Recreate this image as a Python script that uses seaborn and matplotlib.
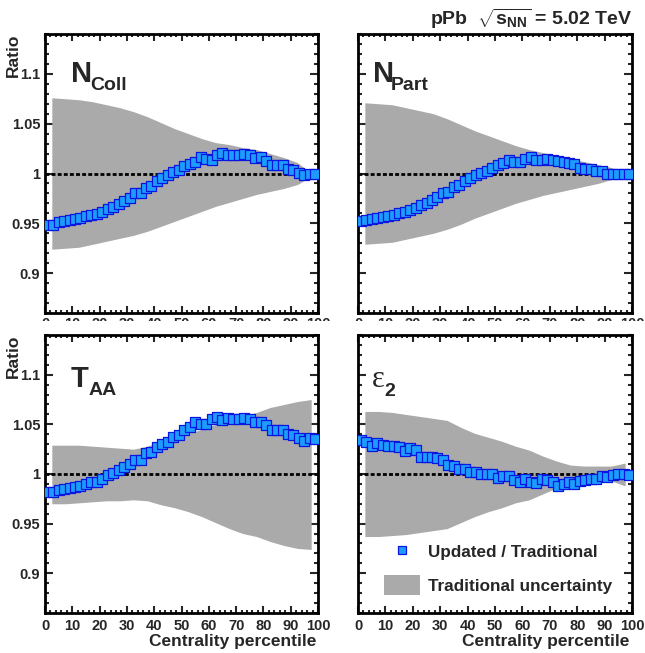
import numpy as np
import seaborn as sns
import matplotlib.pyplot as plt
from matplotlib.ticker import MultipleLocator, FuncFormatter
from matplotlib.patches import Rectangle, Patch
from matplotlib.lines import Line2D

# centrality bin centres (2% bins for the ratio, 5% bins for the band)
centrality = np.arange(1, 100, 2)
band_x = np.arange(2.5, 100, 5)

ncoll_ratio = [0.948, 0.948, 0.951, 0.952, 0.953, 0.954, 0.955, 0.957, 0.958, 0.959,
               0.961, 0.964, 0.966, 0.969, 0.972, 0.975, 0.980, 0.980, 0.985, 0.987,
               0.992, 0.995, 0.998, 1.002, 1.004, 1.008, 1.010, 1.012, 1.017, 1.015,
               1.014, 1.019, 1.021, 1.019, 1.019, 1.019, 1.020, 1.019, 1.016, 1.017,
               1.013, 1.009, 1.009, 1.009, 1.005, 1.004, 1.001, 0.998, 1.000, 1.000]
npart_ratio = [0.952, 0.953, 0.954, 0.955, 0.956, 0.957, 0.958, 0.960, 0.961, 0.963,
               0.965, 0.968, 0.970, 0.973, 0.976, 0.980, 0.981, 0.986, 0.988, 0.992,
               0.995, 0.998, 1.001, 1.003, 1.006, 1.009, 1.011, 1.014, 1.012, 1.012,
               1.015, 1.017, 1.014, 1.014, 1.015, 1.014, 1.013, 1.012, 1.011, 1.010,
               1.006, 1.005, 1.005, 1.003, 1.003, 1.000, 0.999, 1.000, 1.000, 1.000]
taa_ratio = [0.982, 0.982, 0.984, 0.985, 0.986, 0.987, 0.988, 0.990, 0.992, 0.992,
             0.995, 0.999, 1.001, 1.004, 1.007, 1.010, 1.014, 1.014, 1.021, 1.022,
             1.027, 1.030, 1.032, 1.037, 1.039, 1.044, 1.047, 1.052, 1.050, 1.050,
             1.055, 1.057, 1.054, 1.056, 1.055, 1.055, 1.056, 1.055, 1.052, 1.052,
             1.049, 1.044, 1.044, 1.044, 1.040, 1.039, 1.036, 1.033, 1.036, 1.035]
ecc2_ratio = [1.034, 1.032, 1.028, 1.031, 1.029, 1.028, 1.028, 1.027, 1.023, 1.026,
              1.024, 1.017, 1.017, 1.017, 1.016, 1.014, 1.009, 1.008, 1.005, 1.005,
              1.002, 1.002, 1.000, 1.000, 1.000, 0.996, 0.998, 0.998, 0.994, 0.992,
              0.995, 0.992, 0.991, 0.995, 0.994, 0.992, 0.988, 0.990, 0.992, 0.990,
              0.993, 0.994, 0.995, 0.995, 0.998, 0.997, 0.999, 1.000, 1.000, 0.999]

# traditional uncertainty band (upper / lower edge)
ncoll_hi = [1.076, 1.075, 1.074, 1.072, 1.069, 1.066, 1.062, 1.057, 1.051, 1.045,
            1.040, 1.035, 1.031, 1.029, 1.026, 1.024, 1.020, 1.016, 1.011, 1.000]
ncoll_lo = [0.924, 0.925, 0.926, 0.929, 0.932, 0.935, 0.938, 0.942, 0.947, 0.952,
            0.957, 0.962, 0.967, 0.971, 0.975, 0.979, 0.982, 0.985, 0.989, 0.997]
npart_hi = [1.071, 1.070, 1.069, 1.066, 1.063, 1.060, 1.055, 1.049, 1.043, 1.038,
            1.033, 1.028, 1.024, 1.021, 1.018, 1.015, 1.012, 1.009, 1.006, 1.001]
npart_lo = [0.929, 0.930, 0.931, 0.934, 0.937, 0.940, 0.944, 0.949, 0.955, 0.960,
            0.965, 0.970, 0.974, 0.978, 0.981, 0.984, 0.987, 0.990, 0.994, 0.999]
taa_hi = [1.029, 1.029, 1.029, 1.028, 1.027, 1.026, 1.025, 1.028, 1.033, 1.037,
          1.041, 1.045, 1.050, 1.055, 1.059, 1.062, 1.067, 1.070, 1.073, 1.075]
taa_lo = [0.970, 0.970, 0.971, 0.972, 0.973, 0.973, 0.974, 0.973, 0.969, 0.966,
          0.962, 0.957, 0.951, 0.945, 0.940, 0.937, 0.932, 0.928, 0.925, 0.924]
ecc2_hi = [1.063, 1.063, 1.062, 1.060, 1.058, 1.056, 1.054, 1.047, 1.041, 1.037,
           1.033, 1.028, 1.024, 1.018, 1.013, 1.009, 1.008, 1.008, 1.008, 1.011]
ecc2_lo = [0.937, 0.937, 0.938, 0.939, 0.941, 0.943, 0.945, 0.951, 0.957, 0.962,
           0.966, 0.971, 0.974, 0.980, 0.986, 0.990, 0.992, 0.993, 0.993, 0.988]

fill_col = '#1c9cff'
edge_col = '#0a16e0'
band_col = '#aaaaaa'

sns.set_style('ticks')
plt.rcParams['font.family'] = ['Liberation Sans', 'DejaVu Sans']
plt.rcParams['font.weight'] = 'bold'
plt.rcParams['mathtext.fontset'] = 'custom'
plt.rcParams['mathtext.rm'] = 'Liberation Sans:bold'
plt.rcParams['mathtext.it'] = 'Liberation Sans:bold'
plt.rcParams['mathtext.bf'] = 'Liberation Sans:bold'

fig = plt.figure(figsize=(6.45, 6.53), dpi=100)
ax_tl = fig.add_axes([0.06977, 0.52067, 0.42326, 0.42726])
ax_tr = fig.add_axes([0.55504, 0.52067, 0.42481, 0.42726])
ax_bl = fig.add_axes([0.06977, 0.06126, 0.42326, 0.42573])
ax_br = fig.add_axes([0.55504, 0.06126, 0.42481, 0.42573])
ax_bl.set_zorder(2)
ax_br.set_zorder(2)

# white strip that hides the lower half of the top panels' x labels
fig.add_artist(Rectangle((0, 0), 1, 0.5084, transform=fig.transFigure,
                         facecolor='white', edgecolor='none', zorder=1))

panels = [
    (ax_tl, ncoll_ratio, ncoll_hi, ncoll_lo, 'N', 'Coll', (0.095, 0.829), (0.165, 0.799), True, True),
    (ax_tr, npart_ratio, npart_hi, npart_lo, 'N', 'Part', (0.056, 0.829), (0.121, 0.799), False, True),
    (ax_bl, taa_ratio, taa_hi, taa_lo, 'T', 'AA', (0.095, 0.814), (0.160, 0.784), True, False),
    (ax_br, ecc2_ratio, ecc2_hi, ecc2_lo, 'ε', '2', (0.052, 0.814), (0.097, 0.781), False, False),
]

for ax, ratio, hi, lo, main, sub, pos_main, pos_sub, left_col, top_row in panels:
    ax.fill_between(band_x, lo, hi, color=band_col, linewidth=0, zorder=1)
    ax.axhline(1.0, color='black', lw=2, ls=(0, (1.4, 0.8)), zorder=2)
    sns.scatterplot(x=centrality, y=ratio, ax=ax, marker='s', s=42,
                    color=fill_col, edgecolor=edge_col, linewidth=0.9, zorder=3)

    ax.set_xlim(0, 100)
    ax.set_ylim(0.86, 1.14)
    ax.xaxis.set_major_locator(MultipleLocator(10))
    ax.xaxis.set_minor_locator(MultipleLocator(2))
    ax.yaxis.set_major_locator(MultipleLocator(0.05))
    ax.yaxis.set_minor_locator(MultipleLocator(0.01))
    ax.yaxis.set_major_formatter(FuncFormatter(lambda v, p: f'{v:g}'))

    ax.tick_params(which='both', direction='in', top=True, right=True, width=1.5,
                   labelsize=10.5)
    ax.tick_params(axis='x', which='major', length=5, pad=3 if top_row else 4.5)
    ax.tick_params(axis='x', which='minor', length=2.5)
    ax.tick_params(axis='y', which='major', length=6, pad=3.5)
    ax.tick_params(axis='y', which='minor', length=3)
    if not left_col:
        ax.tick_params(axis='y', labelleft=False)
    for lab in ax.get_xticklabels() + ax.get_yticklabels():
        lab.set_fontweight('bold')
    for sp in ax.spines.values():
        sp.set_linewidth(2)
        sp.set_color('black')

    if main == 'ε':
        ax.text(*pos_main, main, transform=ax.transAxes, fontsize=22, fontweight='normal',
                family='Liberation Serif', va='baseline', ha='left')
    else:
        ax.text(*pos_main, main, transform=ax.transAxes, fontsize=21, fontweight='bold',
                va='baseline', ha='left')
    ax.text(*pos_sub, sub, transform=ax.transAxes, fontsize=14, fontweight='bold',
            va='baseline', ha='left')

    if left_col:
        ax.set_ylabel('Ratio', loc='top', fontsize=12.5, fontweight='bold')
        ax.yaxis.set_label_coords(-0.09, 1.0)
    else:
        ax.set_ylabel('')
    if not top_row:
        ax.set_xlabel('Centrality percentile', loc='right', fontsize=12.5, fontweight='bold')
        ax.xaxis.set_label_coords(0.99 if not left_col else 0.995, -0.074)
    else:
        ax.set_xlabel('')

handles = [Line2D([], [], ls='none', marker='s', ms=5.5, mfc=fill_col, mec=edge_col, mew=0.9),
           Patch(facecolor=band_col, edgecolor='none')]
ax_br.legend(handles, ['Updated / Traditional', 'Traditional uncertainty'],
             loc='upper left', bbox_to_anchor=(0.095, 0.255), frameon=False,
             borderpad=0, borderaxespad=0, handlelength=2.1, handleheight=1.37,
             handletextpad=0.47, labelspacing=0.8, prop={'weight': 'bold', 'size': 12.3})

fig.text(0.98, 0.9617, r'pPb  $\sqrt{s_{NN}}$ = 5.02 TeV', ha='right', va='baseline',
         fontsize=14, fontweight='bold', zorder=3)

fig.savefig('out.png', dpi=100)
